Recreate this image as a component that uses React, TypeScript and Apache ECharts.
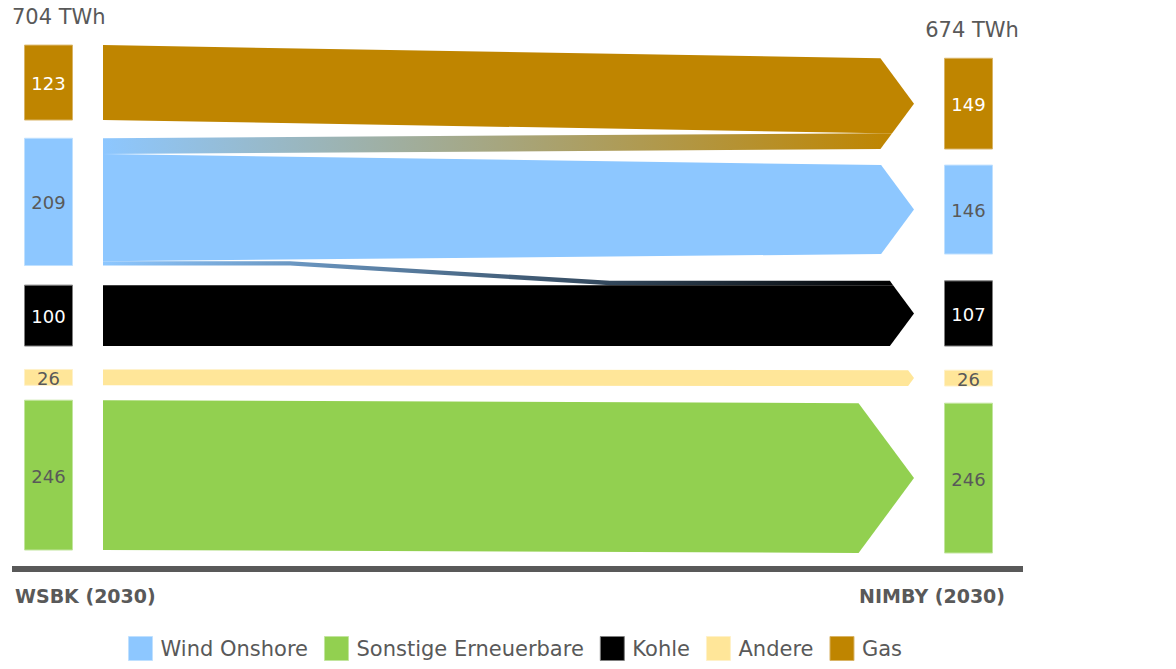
import React, { useEffect, useRef } from 'react';
import * as echarts from 'echarts';

// ---------------- data ----------------
const legendOrder = ['Wind Onshore', 'Sonstige Erneuerbare', 'Kohle', 'Andere', 'Gas'];
// stacking order of the columns, bottom -> top
const stackOrder = ['Sonstige Erneuerbare', 'Andere', 'Kohle', 'Wind Onshore', 'Gas'];
const scenarios = ['WSBK (2030)', 'NIMBY (2030)'];
const wsbkValues = [246, 26, 100, 209, 123];
const nimbyValues = [246, 26, 107, 146, 149];
const flowSources = ['Gas', 'Wind Onshore', 'Wind Onshore', 'Wind Onshore', 'Kohle', 'Andere', 'Sonstige Erneuerbare'];
const flowTargets = ['Gas', 'Gas', 'Wind Onshore', 'Kohle', 'Kohle', 'Andere', 'Sonstige Erneuerbare'];
const flowValues = [123, 26, 146, 7, 100, 26, 246];
const unit = 'TWh';

// ---------------- layout / style ----------------
const LEFT_GAPS = [31.2, 24.5, 38.5, 32.2, 30];
const RIGHT_GAPS = [26.3, 28.2, 39.7, 44.1, 26.5];
const COLORS: Record<string, string> = {
  'Wind Onshore': '#8DC7FF',
  'Sonstige Erneuerbare': '#92D050',
  Kohle: '#000000',
  Andere: '#FFE699',
  Gas: '#BF8500',
};
const LABEL_COLORS: Record<string, string> = {
  'Wind Onshore': '#595959',
  'Sonstige Erneuerbare': '#595959',
  Kohle: '#FFFFFF',
  Andere: '#595959',
  Gas: '#FFFFFF',
};
const BORDERS: Record<string, string> = {
  'Wind Onshore': '#BFE0FF',
  'Sonstige Erneuerbare': '#C2E59E',
  Kohle: '#7F7F7F',
  Andere: '#FFF1C8',
  Gas: '#D9B466',
};
const TEXT = '#595959';
const FONT = "'DejaVu Sans', Verdana, sans-serif";
const LEFT_BAR = [24.5, 72.5];
const RIGHT_BAR = [944.5, 992.5];
const FLOW_START = 103;
const TIP = 914;
const K = 0.74;
const BEND = [290, 610];

type NodeEl = { kind: 'node'; cat: string; x0: number; x1: number; b: number; t: number; value: number };
type FlowEl = {
  kind: 'flow'; s: number; t: number;
  lb: number; lt: number; rb: number; rt: number;
  nodeB: number; nodeT: number; bend: boolean; c0: string; c1: string;
};
type TotalEl = { kind: 'total'; side: number; top: number; value: number };
type El = NodeEl | FlowEl | TotalEl;

function buildElements() {
  const n = stackOrder.length;
  const leftBottom: number[] = [];
  const rightBottom: number[] = [];
  let lb = 0;
  let rb = 0;
  for (let i = 0; i < n; i++) {
    lb += LEFT_GAPS[i];
    leftBottom.push(lb);
    lb += wsbkValues[i];
    rb += RIGHT_GAPS[i];
    rightBottom.push(rb);
    rb += nimbyValues[i];
  }
  const flows = flowValues.map((v, k) => ({
    s: stackOrder.indexOf(flowSources[k]),
    t: stackOrder.indexOf(flowTargets[k]),
    v,
    k,
  }));
  const lThick = flows.map((f) =>
    f.s !== f.t ? f.v : wsbkValues[f.s] - flows.filter((g) => g.s === f.s && g !== f).reduce((a, g) => a + g.v, 0)
  );
  const rThick = flows.map((f) =>
    f.s !== f.t ? f.v : nimbyValues[f.t] - flows.filter((g) => g.t === f.t && g !== f).reduce((a, g) => a + g.v, 0)
  );
  const lPos: number[][] = [];
  const rPos: number[][] = [];
  for (let i = 0; i < n; i++) {
    let top = leftBottom[i] + wsbkValues[i];
    flows.filter((f) => f.s === i).sort((a, b) => b.t - a.t).forEach((f) => {
      lPos[f.k] = [top - lThick[f.k], top];
      top -= lThick[f.k];
    });
    let rtop = rightBottom[i] + nimbyValues[i];
    flows.filter((f) => f.t === i).sort((a, b) => b.s - a.s).forEach((f) => {
      rPos[f.k] = [rtop - rThick[f.k], rtop];
      rtop -= rThick[f.k];
    });
  }
  const perCat: Record<string, El[]> = {};
  stackOrder.forEach((c, i) => {
    const els: El[] = [];
    flows.filter((f) => f.s === i).forEach((f) => {
      els.push({
        kind: 'flow', s: f.s, t: f.t,
        lb: lPos[f.k][0], lt: lPos[f.k][1], rb: rPos[f.k][0], rt: rPos[f.k][1],
        nodeB: rightBottom[f.t], nodeT: rightBottom[f.t] + nimbyValues[f.t],
        bend: f.t < f.s,
        c0: COLORS[stackOrder[f.s]], c1: COLORS[stackOrder[f.t]],
      });
    });
    els.push({ kind: 'node', cat: c, x0: LEFT_BAR[0], x1: LEFT_BAR[1], b: leftBottom[i], t: leftBottom[i] + wsbkValues[i], value: wsbkValues[i] });
    els.push({ kind: 'node', cat: c, x0: RIGHT_BAR[0], x1: RIGHT_BAR[1], b: rightBottom[i], t: rightBottom[i] + nimbyValues[i], value: nimbyValues[i] });
    perCat[c] = els;
  });
  const totals: TotalEl[] = [
    { kind: 'total', side: 0, top: leftBottom[n - 1] + wsbkValues[n - 1], value: wsbkValues.reduce((a, b) => a + b, 0) },
    { kind: 'total', side: 1, top: rightBottom[n - 1] + nimbyValues[n - 1], value: nimbyValues.reduce((a, b) => a + b, 0) },
  ];
  return { perCat, totals };
}

function renderEl(el: El, api: any): any {
  if (el.kind === 'node') {
    const p0 = api.coord([el.x0, el.b]);
    const p1 = api.coord([el.x1, el.t]);
    return {
      type: 'group',
      children: [
        {
          type: 'rect',
          shape: { x: p0[0], y: p1[1], width: p1[0] - p0[0], height: p0[1] - p1[1] },
          style: { fill: COLORS[el.cat], stroke: BORDERS[el.cat], lineWidth: 1 },
        },
        {
          type: 'text',
          x: (p0[0] + p1[0]) / 2,
          y: (p0[1] + p1[1]) / 2 + 1,
          style: {
            text: String(el.value), fill: LABEL_COLORS[el.cat], fontSize: 18, fontFamily: FONT,
            align: 'center', verticalAlign: 'middle',
          },
        },
      ],
    };
  }
  if (el.kind === 'total') {
    const p = api.coord([el.side === 0 ? 12 : 972, el.top]);
    return {
      type: 'text',
      x: p[0],
      y: p[1] - 28.5,
      style: {
        text: `${el.value} ${unit}`, fill: TEXT, fontSize: 21, fontFamily: FONT,
        align: el.side === 0 ? 'left' : 'center', verticalAlign: 'middle',
      },
    };
  }
  const y = (v: number) => api.coord([500, v])[1];
  const lt = y(el.lt), lb = y(el.lb), rt = y(el.rt), rb = y(el.rb);
  const nT = y(el.nodeT), nB = y(el.nodeB);
  const C = (nT + nB) / 2;
  const half = (nB - nT) / 2;
  const x1 = TIP - K * half;
  const xc = (yy: number) => TIP - K * Math.abs(yy - C);
  const pts: number[][] = [];
  pts.push([FLOW_START, lt]);
  if (el.bend) { pts.push([BEND[0], lt]); pts.push([BEND[1], rt]); }
  pts.push([x1, rt]);
  pts.push([xc(rt), rt]);
  if (rt < C - 0.01 && rb > C + 0.01) pts.push([TIP, C]);
  pts.push([xc(rb), rb]);
  pts.push([x1, rb]);
  if (el.bend) { pts.push([BEND[1], rb]); pts.push([BEND[0], lb]); }
  pts.push([FLOW_START, lb]);
  const fill = el.c0 === el.c1
    ? el.c0
    : new echarts.graphic.LinearGradient(0, 0, 1, 0, [
        { offset: 0, color: el.c0 },
        { offset: 1, color: el.c1 },
      ]);
  return { type: 'polygon', shape: { points: pts }, style: { fill } };
}

export default function App() {
  const ref = useRef<HTMLDivElement>(null);
  useEffect(() => {
    if (!ref.current) return;
    const chart = echarts.init(ref.current, undefined, { renderer: 'svg' });
    const { perCat, totals } = buildElements();
    const series: any[] = legendOrder.map((c) => ({
      type: 'custom',
      name: c,
      coordinateSystem: 'cartesian2d',
      silent: true,
      itemStyle: { color: COLORS[c] },
      data: perCat[c].map(() => [500, 100]),
      encode: { x: 0, y: 1 },
      renderItem: (params: any, api: any) => renderEl(perCat[c][params.dataIndex], api),
    }));
    series.push({
      type: 'custom',
      name: 'totals',
      coordinateSystem: 'cartesian2d',
      silent: true,
      data: totals.map(() => [500, 100]),
      encode: { x: 0, y: 1 },
      renderItem: (params: any, api: any) => renderEl(totals[params.dataIndex], api),
    });
    chart.setOption({
      animation: false,
      backgroundColor: '#ffffff',
      grid: { left: 12, right: 153, top: 21, bottom: 100, containLabel: false },
      xAxis: {
        type: 'value', min: 12, max: 1023,
        axisLine: { show: true, lineStyle: { color: '#595959', width: 6, cap: 'butt' } },
        axisTick: { show: false }, axisLabel: { show: false }, splitLine: { show: false },
      },
      yAxis: {
        type: 'value', min: 0, max: 900, show: false, splitLine: { show: false },
      },
      legend: {
        data: legendOrder.map((c) => ({ name: c, itemStyle: { borderColor: BORDERS[c], borderWidth: 1 } })),
        icon: 'rect',
        left: 128,
        top: 636,
        padding: 0,
        itemWidth: 24,
        itemHeight: 24,
        itemGap: 16,
        selectedMode: false,
        textStyle: { fontSize: 21, color: TEXT, fontFamily: FONT, padding: [0, 0, 0, 3] },
      },
      graphic: [
        {
          type: 'text', left: 15, top: 586,
          style: { text: scenarios[0], fill: TEXT, fontSize: 19, fontWeight: 'bold', fontFamily: FONT },
        },
        {
          type: 'text', right: 171, top: 586,
          style: { text: scenarios[1], fill: TEXT, fontSize: 19, fontWeight: 'bold', fontFamily: FONT },
        },
      ],
      series,
    });
    return () => chart.dispose();
  }, []);
  return <div ref={ref} style={{ position: 'absolute', left: 0, top: 0, width: 1176, height: 669 }} />;
}
